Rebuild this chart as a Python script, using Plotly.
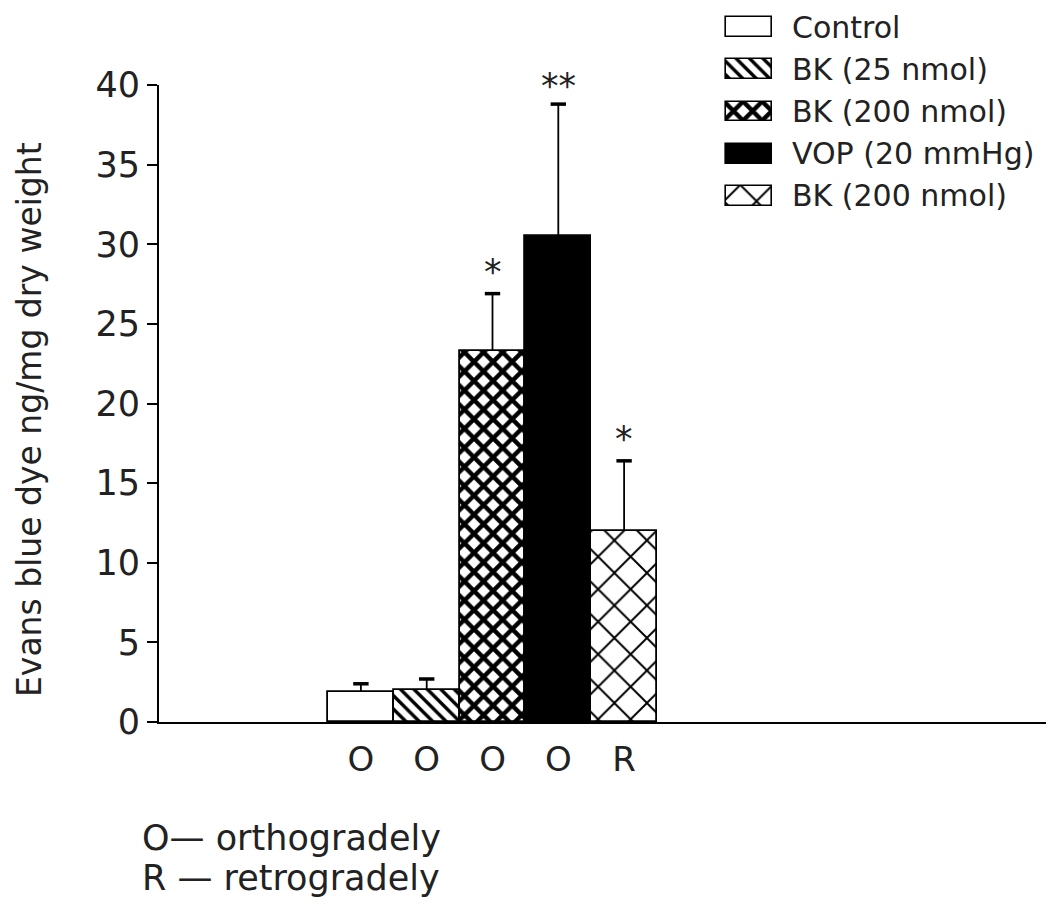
import plotly.graph_objects as go

# ---- data ----
groups = ["Control", "BK (25 nmol)", "BK (200 nmol)", "VOP (20 mmHg)", "BK (200 nmol)"]
routes = ["O", "O", "O", "O", "R"]
means = [1.9, 2.0, 23.3, 30.5, 12.0]
sems = [0.5, 0.7, 3.6, 8.3, 4.4]
stars = ["", "", "*", "**", "*"]
y_ticks = [0, 5, 10, 15, 20, 25, 30, 35, 40]
route_notes = ["O\u2014 orthogradely", "R \u2014 retrogradely"]

# ---- styling ----
fills = ["white", "white", "white", "black", "white"]
shapes = ["", "\\", "x", "", "x"]
pat_sizes = [10, 9.5, 13.5, 10, 23]
pat_solid = [0.2, 0.36, 0.55, 0.2, 0.16]
FONT = "DejaVu Sans"
INK = "#222222"

W, H = 1046, 904


def px(x):
    return x / W


def py(y):
    return 1 - y / H


positions = list(range(1, len(means) + 1))
legend_rows = list(range(len(groups)))
tops = [m + s for m, s in zip(means, sems)]

fig = go.Figure()

for i in range(len(means)):
    pattern = dict(shape=shapes[i], size=pat_sizes[i], solidity=pat_solid[i],
                   fgcolor="black", bgcolor=fills[i], fillmode="replace")
    # one bar per condition, with an upper error bar only
    fig.add_trace(go.Bar(
        x=[positions[i]], y=[means[i]], width=1,
        marker=dict(color=fills[i], line=dict(color="black", width=1.8),
                    pattern=pattern),
        error_y=dict(type="data", symmetric=False, array=[sems[i]],
                     arrayminus=[0], color="black", thickness=1.8, width=0),
        showlegend=False, hoverinfo="skip",
    ))
    # matching legend swatch in the small key axes
    fig.add_trace(go.Bar(
        x=[1], y=[legend_rows[i]], orientation="h", width=0.47,
        marker=dict(color=fills[i], line=dict(color="black", width=1.6),
                    pattern=pattern),
        xaxis="x2", yaxis="y2", showlegend=False, hoverinfo="skip",
    ))

# heavy caps on the error bars
fig.add_trace(go.Scatter(
    x=positions, y=tops, mode="markers",
    marker=dict(symbol="line-ew", size=11, line=dict(color="black", width=3.5)),
    showlegend=False, hoverinfo="skip",
))

annotations = []
for i, s in enumerate(stars):
    if s:
        annotations.append(dict(
            x=positions[i], y=tops[i], xref="x", yref="y",
            text=s, showarrow=False, yanchor="bottom",
            yshift=-4 if len(s) > 1 else 0,
            font=dict(family=FONT, size=35, color=INK),
        ))

for i, name in enumerate(groups):
    annotations.append(dict(
        x=px(790), y=legend_rows[i], xref="paper", yref="y2",
        text=name, showarrow=False, xanchor="left", yanchor="middle",
        font=dict(family=FONT, size=30, color=INK),
    ))

annotations.append(dict(
    x=px(30), y=py(420), xref="paper", yref="paper",
    text="Evans blue dye ng/mg dry weight", textangle=-90, showarrow=False,
    xanchor="center", yanchor="middle",
    font=dict(family=FONT, size=33, color=INK),
))

for j, note in enumerate(route_notes):
    annotations.append(dict(
        x=px(140), y=py(838 + 40 * j), xref="paper", yref="paper",
        text=note, showarrow=False, xanchor="left", yanchor="middle",
        font=dict(family=FONT, size=35, color=INK),
    ))

bar_px = 65.8
x0 = 0.5 - (328 - 159) / bar_px
x1 = x0 + (1046 - 159) / bar_px

fig.update_layout(
    width=W, height=H,
    margin=dict(l=0, r=0, t=0, b=0, autoexpand=False),
    paper_bgcolor="white", plot_bgcolor="white",
    bargap=0, barmode="overlay",
    font=dict(family=FONT, color=INK),
    annotations=annotations,
    xaxis=dict(
        domain=[px(159), 1.0], range=[x0, x1], automargin=False,
        tickvals=positions, ticktext=routes, ticks="",
        showline=True, linecolor="black", linewidth=1.8,
        showgrid=False, zeroline=False,
        tickfont=dict(family=FONT, size=34, color=INK),
        ticklabelstandoff=6,
    ),
    yaxis=dict(
        domain=[py(722), py(85)], range=[0, 40], automargin=False,
        tickvals=y_ticks, ticks="outside", ticklen=10, tickwidth=1.6,
        tickcolor="black",
        showline=True, linecolor="black", linewidth=1.8,
        showgrid=False, zeroline=False,
        tickfont=dict(family=FONT, size=35, color=INK),
    ),
    xaxis2=dict(
        domain=[px(724), px(774)], range=[-0.04, 1.04], anchor="y2",
        visible=False, automargin=False,
    ),
    yaxis2=dict(
        domain=[py(217), py(6)], range=[4.5, -0.5], anchor="x2",
        visible=False, automargin=False,
    ),
)

fig.write_html("out.html")
